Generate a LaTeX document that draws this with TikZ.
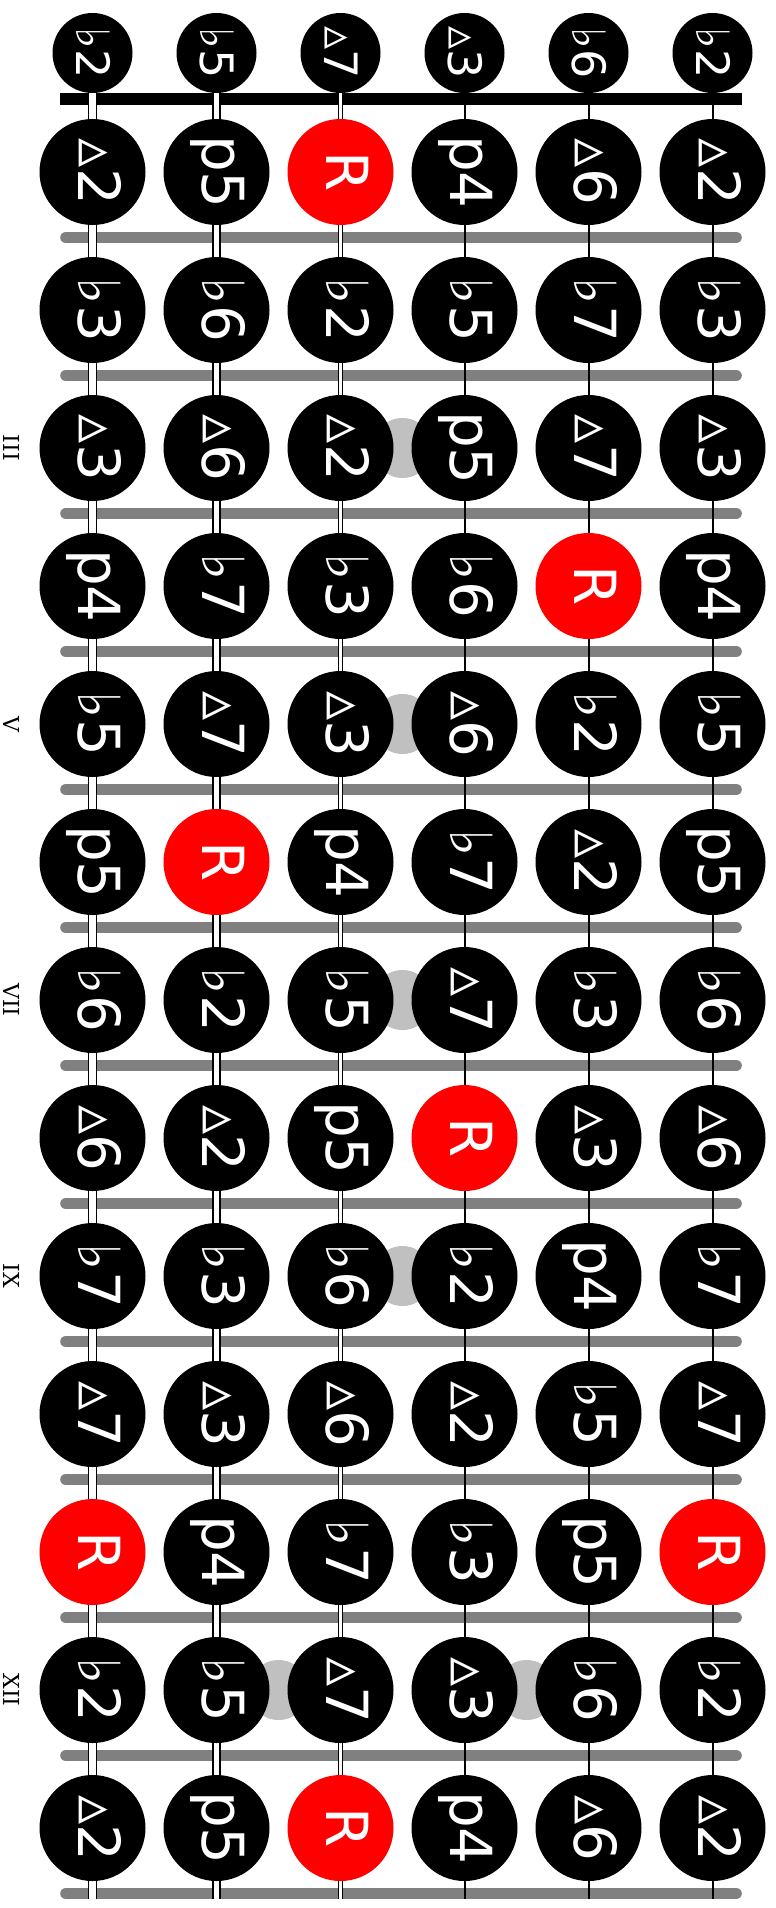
\documentclass[tikz,border=0pt]{standalone}
\usepackage{fontspec}
\usepackage{xcolor}
\setmainfont{DejaVu Sans}
\newfontfamily\fretfont{DejaVu Serif}
\usetikzlibrary{positioning}
\definecolor{Fret}{HTML}{808080}
\definecolor{Inlay}{HTML}{C0C0C0}
\definecolor{Root}{HTML}{FF0000}
\newcommand\ivname[1]{\ifcase#1 R\or ♭2\or ▵2\or ♭3\or ▵3\or p4\or ♭5\or p5\or ♭6\or ▵6\or ♭7\or ▵7\fi}
\tikzset{
  note/.style={circle,fill=black,minimum size=106pt,inner sep=0pt,text=white,font=\fontsize{58}{60}\selectfont,rotate=-90,text height=29pt,text depth=0pt},
  root/.style={note,fill=Root},
  opennote/.style={circle,fill=black,minimum size=80pt,inner sep=0pt,text=white,font=\fontsize{46}{48}\selectfont,rotate=-90,text height=33pt,text depth=0pt},
  fretbar/.style={draw=Fret,line width=11.6pt,line cap=round},
  nutbar/.style={draw=black,line width=11.7pt},
  inlay/.style={circle,fill=Inlay,minimum size=60pt,inner sep=0pt},
  wound/.style={draw=black,line width=1.7pt,double=white},
  plainstring/.style={draw=black,line width=2pt},
  fretnum/.style={font=\fretfont\fontsize{22}{22}\selectfont,rotate=-90}
}
\begin{document}
\begin{tikzpicture}[x=1pt,y=-1pt]
  \useasboundingbox (0,0) rectangle (776,1908);
  % nut and frets
  \draw[nutbar] (60,99) -- (742,99);
  \foreach \k in {1,...,13}
    \draw[fretbar] (66,{237.5+138*(\k-1)}) -- (736,{237.5+138*(\k-1)});
  % inlays
  \foreach \k in {3,5,7,9}
    \node[inlay] (dot\k) at (402.5,{172+138*(\k-1)}) {};
  \node[inlay] (dot12a) at (278.5,1690) {};
  \node[inlay] (dot12b) at (526.5,1690) {};
  % fret numbers
  \foreach \k/\r in {3/III,5/V,7/VII,9/IX,12/XII}
    \node[fretnum] (f\k) at (12,{172+138*(\k-1)}) {\r};
  % strings
  \foreach \s in {1,...,6}{
    \coordinate (top\s) at ({92.5+124*(\s-1)},53);
    \coordinate (end\s) at ({92.5+124*(\s-1)},1899);
  }
  \draw[wound,double distance=6.1pt] (top1) -- (end1);
  \draw[wound,double distance=5.1pt] (top2) -- (end2);
  \draw[wound,line width=1.3pt,double distance=3.2pt] (top3) -- (end3);
  \draw[plainstring] (top4) -- (end4);
  \draw[plainstring] (top5) -- (end5);
  \draw[plainstring] (top6) -- (end6);
  % notes
  \foreach \off [count=\s] in {1,6,11,4,8,1}{
    \node[opennote] (o\s) at (top\s) {\ivname{\off}};
    \foreach \k in {1,...,13}{
      \pgfmathtruncatemacro\iv{mod(\off+\k,12)}
      \ifnum\iv=0 \def\nst{root}\else\def\nst{note}\fi
      \node[\nst] (n\k-\s) at ({92.5+124*(\s-1)},{172+138*(\k-1)}) {\ivname{\iv}};
    }
  }
\end{tikzpicture}
\end{document}
